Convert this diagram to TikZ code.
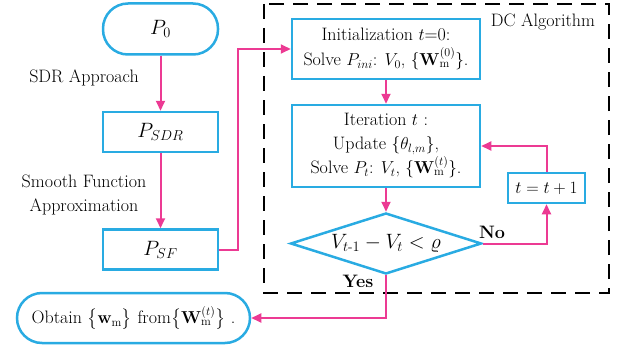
\documentclass[tikz,border=0pt]{standalone}
\usepackage{amsmath}
\usetikzlibrary{shapes.geometric,arrows.meta,calc}
\definecolor{cblue}{HTML}{29ABE2}
\definecolor{cpink}{HTML}{EC3A93}
\newcommand{\fsz}{\fontsize{18}{24}\selectfont}
\newcommand{\fbig}{\fontsize{21}{25}\selectfont}
\begin{document}
\begin{tikzpicture}[x=1pt,y=-1pt,
  box/.style={draw=cblue, line width=2.5pt, minimum width=115pt, minimum height=40pt, inner sep=0pt, align=center, font=\fsz},
  term/.style={box, rounded corners=25pt, minimum height=51pt},
  arr/.style={draw=cpink, line width=2pt, -{Triangle[length=10pt,width=9pt]}},
  lbl/.style={font=\fsz, align=center, inner sep=0pt}]
\useasboundingbox (0,0) rectangle (621,345);
% dashed frame
\draw[black, line width=1.3pt, dash pattern=on 15pt off 9pt] (264,4) rectangle (609,293);
\node[lbl] (dc) at (543,22) {DC Algorithm};
% left column
\node[term, font=\fbig] (p0) at (160.5,29) {$P_0$};
\node[box, font=\fbig] (psdr) at (160.5,132) {$P_{SDR}$};
\node[box, font=\fbig] (psf) at (160.5,249.5) {$P_{SF}$};
\node[lbl] (l1) at (84,78) {SDR Approach};
\node[lbl] (l2) at (84,195) {Smooth Function\\Approximation};
% DC part
\node[box, minimum width=188pt, minimum height=60pt] (init) at (386,49)
  {Initialization $t$=0:\\[1pt]Solve $P_{ini}$: $V_0$, $\{\mathbf{W}_{\mathrm{m}}^{(0)}\}$.};
\node[box, minimum width=188pt, minimum height=82pt] (iter) at (386,146)
  {Iteration $t$ :\\Update $\{\theta_{l,m}\}$,\\Solve $P_t$: $V_t$, $\{\mathbf{W}_{\mathrm{m}}^{(t)}\}$.};
\node[box, minimum width=77pt, minimum height=30pt] (inc) at (546.5,188) {$t = t + 1$};
\node[box, shape=diamond, aspect=3.1, minimum width=191pt, minimum height=61pt, font=\fontsize{20}{24}\selectfont] (dia) at (386,243.5)
  {$V_{t\text{-}1} - V_t < \varrho$};
\node[term, minimum width=233pt, minimum height=50pt] (obt) at (133.5,318)
  {Obtain $\big\{\mathbf{w}_{\mathrm{m}}\big\}$ from$\big\{\mathbf{W}_{\mathrm{m}}^{(t)}\big\}$ .};
\node[lbl, font=\fsz\bfseries] (no) at (492,232) {No};
\node[lbl, font=\fsz\bfseries] (yes) at (358,281) {Yes};
% connectors
\draw[arr] (p0.south) -- (psdr.north);
\draw[arr] (psdr.south) -- (psf.north);
\draw[arr] (psf.east) -- ++(19,0) |- (init.west);
\draw[arr] (init.south) -- (iter.north);
\draw[arr] (iter.south) -- (dia.north);
\draw[arr] (dia.east) -| (inc.south);
\draw[arr] (inc.north) |- (iter.east);
\draw[arr] (dia.south) |- (obt.east);
\end{tikzpicture}
\end{document}
